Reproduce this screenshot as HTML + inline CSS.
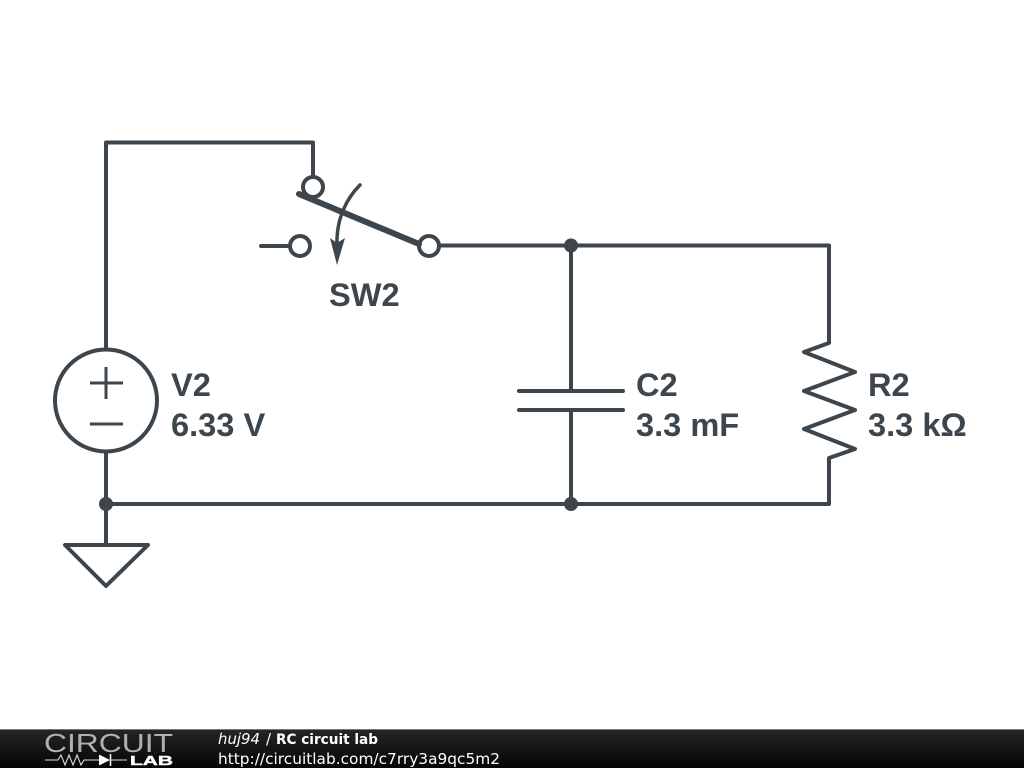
<!DOCTYPE html>
<html>
<head>
<meta charset="utf-8">
<style>
html,body{margin:0;padding:0;background:#fff;}
body{width:1024px;height:768px;overflow:hidden;position:relative;}
svg{position:absolute;left:0;top:0;}
.l{font-family:"Liberation Sans",sans-serif;font-weight:bold;font-size:32.6px;fill:#3d464c;}
.f{font-family:"DejaVu Sans",sans-serif;fill:#fff;}
</style>
</head>
<body>
<svg width="1024" height="768" viewBox="0 0 1024 768">
<defs>
<linearGradient id="g" x1="0" y1="0" x2="0" y2="1">
<stop offset="0" stop-color="#262626"/>
<stop offset="1" stop-color="#050505"/>
</linearGradient>
</defs>
<g fill="none" stroke="#3d464c" stroke-width="4" stroke-linecap="round" stroke-linejoin="round">
<path d="M106 349V142.500H313V177" stroke-linecap="butt"/>
<path d="M439 245.500H829V343L804 352L855 372L804 391L855 410L804 429L855 449L829 458V504H106"/>
<path d="M106 452V545" stroke-linecap="butt"/>
<path d="M65 545H148L106 586Z"/>
<circle cx="106" cy="400.500" r="51"/>
<path d="M90 383H123M106 367V399M90 424H123" stroke-width="3" stroke-linecap="butt"/>
<path d="M571 245V391M571 410V504"/>
<path d="M519 391H623M519 410H623"/>
<circle cx="313" cy="187" r="10"/>
<circle cx="300" cy="246" r="10"/>
<circle cx="429" cy="246" r="10"/>
<path d="M261 246H290"/>
<path d="M299 194L419 244" stroke-width="6"/>
<path d="M360 185C347 198 336 218 337 246" stroke-width="3.500"/>
</g>
<path d="M330 238L337 243L345 238L337 265Z" fill="#3d464c"/>
<circle cx="571" cy="245.500" r="7" fill="#3d464c"/>
<circle cx="571" cy="504" r="7" fill="#3d464c"/>
<circle cx="106" cy="504" r="7" fill="#3d464c"/>
<text class="l" x="329" y="306">SW2</text>
<text class="l" x="171" y="396">V2</text>
<text class="l" x="171" y="436">6.33 V</text>
<text class="l" x="636" y="396">C2</text>
<text class="l" x="636" y="436">3.3 mF</text>
<text class="l" x="868" y="396">R2</text>
<text class="l" x="868" y="436">3.3 kΩ</text>

<rect x="0" y="729" width="1024" height="39" fill="url(#g)"/>
<rect x="0" y="729" width="1024" height="1" fill="#777"/>
<text x="44" y="752" font-family="Liberation Sans,sans-serif" font-size="26" fill="#b0b0b0" textLength="129" lengthAdjust="spacingAndGlyphs">CIRCUIT</text>
<path d="M45 760H58L61 755L65 765L69 755L73 765L77 755L81 765L84 760H99" fill="none" stroke="#ddd" stroke-width="1.100"/>
<path d="M99 754.500L110 760L99 765.500Z" fill="#fff"/>
<path d="M110.500 754V766" stroke="#fff" stroke-width="1.500"/>
<path d="M110 760H127" stroke="#ddd" stroke-width="1.100"/>
<text x="130" y="765" font-family="Liberation Sans,sans-serif" font-weight="bold" font-size="13" fill="#fff" stroke="#fff" stroke-width="0.400" textLength="43" lengthAdjust="spacingAndGlyphs">LAB</text>
<text class="f" x="218" y="744" font-size="15" font-style="italic" textLength="42" lengthAdjust="spacingAndGlyphs">huj94</text>
<text class="f" x="266" y="744" font-size="15">/</text>
<text class="f" x="276" y="744" font-size="14" font-weight="bold" textLength="102" lengthAdjust="spacingAndGlyphs">RC circuit lab</text>
<text class="f" x="218" y="764" font-size="15.400" textLength="282" lengthAdjust="spacingAndGlyphs">http://circuitlab.com/c7rry3a9qc5m2</text>
</svg>
</body>
</html>
